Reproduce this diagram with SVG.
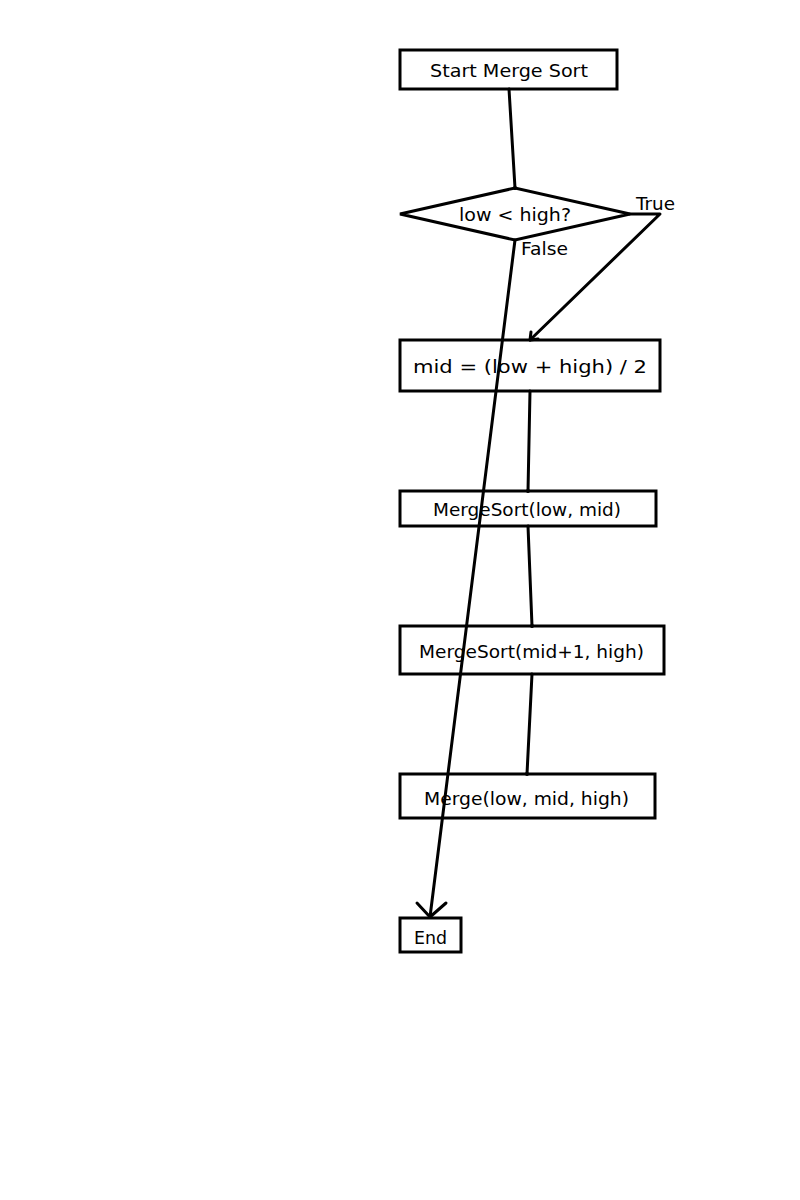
<svg xmlns="http://www.w3.org/2000/svg" width="800" height="1200" viewBox="0 0 800 1200">
<style>
.n{fill:#fff;stroke:#000;stroke-width:3}
.t{font-family:"DejaVu Sans","Liberation Sans",sans-serif;font-size:17px;fill:#000}
.c{stroke:#000;stroke-width:3;fill:none;stroke-linecap:round;stroke-linejoin:round}
</style>
<rect width="800" height="1200" fill="#fff"/>
<g id="start"><rect class="n" x="400" y="50" width="217" height="39"/><text class="t" x="430" y="77" textLength="158" lengthAdjust="spacingAndGlyphs">Start Merge Sort</text></g>
<g id="decision"><polygon class="n" points="400,214 515,188 630,214 515,240"/><text class="t" x="459" y="221" textLength="112" lengthAdjust="spacingAndGlyphs">low &lt; high?</text></g>
<g id="mid"><rect class="n" x="400" y="340" width="260" height="51"/><text class="t" x="413" y="373" textLength="234" lengthAdjust="spacingAndGlyphs">mid = (low + high) / 2</text></g>
<g id="ms1"><rect class="n" x="400" y="491" width="256" height="35"/><text class="t" x="433" y="516" textLength="188" lengthAdjust="spacingAndGlyphs">MergeSort(low, mid)</text></g>
<g id="ms2"><rect class="n" x="400" y="626" width="264" height="48"/><text class="t" x="419" y="658" textLength="225" lengthAdjust="spacingAndGlyphs">MergeSort(mid+1, high)</text></g>
<g id="merge"><rect class="n" x="400" y="774" width="255" height="44"/><text class="t" x="424" y="805" textLength="205" lengthAdjust="spacingAndGlyphs">Merge(low, mid, high)</text></g>
<g id="end"><rect class="n" x="400" y="918" width="61" height="34"/><text class="t" x="414" y="944" textLength="33" lengthAdjust="spacingAndGlyphs">End</text></g>
<g id="connectors">
<path class="c" d="M509,89 L515,188"/><circle cx="515" cy="188" r="2"/>
<path class="c" d="M630,214 L660,214 L530,340"/><path class="c" d="M530,340 L531,332 M530,340 L538,339"/>
<path class="c" d="M515,240 L430,917"/><path class="c" d="M417,903 L430,917 L446,903"/>
<path class="c" d="M530,391 L528,491"/><circle cx="528" cy="491" r="2"/>
<path class="c" d="M528,526 L532,626"/><circle cx="532" cy="626" r="2"/>
<path class="c" d="M532,674 L527,774"/><circle cx="527" cy="774" r="2"/>
<text class="t" x="636" y="210" textLength="39" lengthAdjust="spacingAndGlyphs">True</text>
<text class="t" x="521" y="255" textLength="47" lengthAdjust="spacingAndGlyphs">False</text>
</g>
</svg>
